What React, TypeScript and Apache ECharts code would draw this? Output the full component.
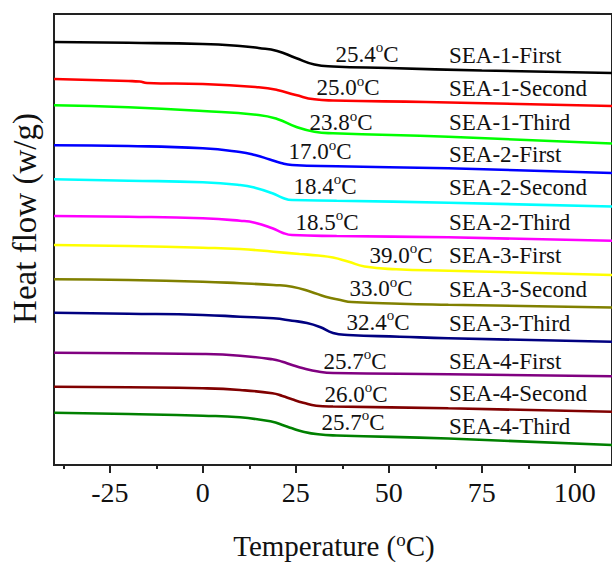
import React, { useEffect, useRef } from "react";
import * as echarts from "echarts";

// ---- axis ticks ----
const xMajorTicks = [-25, 0, 25, 50, 75, 100];
const xMinorTicks = [-37.5, -12.5, 12.5, 37.5, 62.5, 87.5];
const xMin = -40;
const xMax = 110;
const yMin = 0;
const yMax = 4.51;

// ---- series meta ----
const seriesNames = [
  "SEA-1-First", "SEA-1-Second", "SEA-1-Third",
  "SEA-2-First", "SEA-2-Second", "SEA-2-Third",
  "SEA-3-First", "SEA-3-Second", "SEA-3-Third",
  "SEA-4-First", "SEA-4-Second", "SEA-4-Third",
];
const tgValues = ["25.4", "25.0", "23.8", "17.0", "18.4", "18.5", "39.0", "33.0", "32.4", "25.7", "26.0", "25.7"];
const seriesColors = [
  "#000000", "#ff0000", "#00ff00",
  "#0000ff", "#00ffff", "#ff00ff",
  "#ffff00", "#808000", "#000080",
  "#800080", "#800000", "#008000",
];

// ---- curve data: [temperature (°C), heat flow (offset, w/g)] ----
const sea1First = [[-40, 4.23], [-20, 4.222], [0, 4.21], [10, 4.19], [15, 4.17], [20, 4.14], [25, 4.07], [30, 4.005], [35, 3.985], [50, 3.97], [75, 3.945], [110, 3.92]];
const sea1Second = [[-40, 3.86], [-20, 3.84], [-17, 3.835], [-15, 3.82], [0, 3.81], [15, 3.777], [20, 3.75], [25, 3.70], [30, 3.657], [35, 3.645], [60, 3.63], [85, 3.61], [110, 3.59]];
const sea1Third = [[-40, 3.597], [-20, 3.577], [0, 3.54], [15, 3.50], [20, 3.46], [25, 3.383], [30, 3.333], [35, 3.317], [66, 3.283], [110, 3.215]];
const sea2First = [[-40, 3.197], [-20, 3.19], [0, 3.167], [10, 3.13], [14, 3.10], [18, 3.055], [21, 3.02], [24, 3.00], [36, 2.987], [66, 2.967], [110, 2.92]];
const sea2Second = [[-40, 2.857], [-20, 2.843], [0, 2.827], [10, 2.80], [14, 2.773], [18.7, 2.717], [21.4, 2.673], [24, 2.65], [36, 2.643], [66, 2.623], [110, 2.585]];
const sea2Third = [[-40, 2.49], [-20, 2.483], [0, 2.467], [10, 2.443], [14, 2.423], [18.7, 2.367], [21.4, 2.323], [24, 2.30], [36, 2.29], [66, 2.277], [110, 2.243]];
const sea3First = [[-40, 2.20], [-20, 2.19], [0, 2.173], [10, 2.16], [19, 2.133], [26, 2.11], [31, 2.095], [35, 2.075], [39, 2.035], [43.5, 1.985], [52, 1.957], [66, 1.943], [110, 1.90]];
const sea3Second = [[-40, 1.857], [-20, 1.85], [0, 1.833], [10, 1.817], [19, 1.80], [24, 1.783], [29, 1.733], [33, 1.683], [37, 1.65], [40, 1.63], [53, 1.613], [66, 1.603], [110, 1.575]];
const sea3Third = [[-40, 1.523], [-20, 1.513], [0, 1.50], [10, 1.483], [19, 1.467], [24, 1.443], [28, 1.42], [31.5, 1.38], [35, 1.32], [39, 1.30], [53, 1.283], [66, 1.267], [110, 1.233]];
const sea4First = [[-40, 1.123], [-20, 1.117], [0, 1.11], [10, 1.093], [18.7, 1.057], [21.4, 1.033], [24, 1.00], [27, 0.967], [31, 0.935], [35, 0.92], [66, 0.908], [110, 0.887]];
const sea4Second = [[-40, 0.783], [-20, 0.777], [0, 0.767], [10, 0.75], [18.7, 0.717], [21.4, 0.69], [24, 0.657], [27, 0.623], [30.5, 0.593], [35, 0.585], [66, 0.567], [110, 0.533]];
const sea4Third = [[-40, 0.523], [-20, 0.51], [0, 0.493], [10, 0.477], [18.7, 0.433], [21.4, 0.40], [24, 0.367], [27, 0.333], [31, 0.307], [36, 0.295], [66, 0.265], [110, 0.20]];

const seriesData = [
  sea1First, sea1Second, sea1Third,
  sea2First, sea2Second, sea2Third,
  sea3First, sea3Second, sea3Third,
  sea4First, sea4Second, sea4Third,
];

// ---- label layout (pixels) ----
const nameLabelX = 449;
const nameLabelY = [55, 88, 122.5, 154, 187, 222.5, 255.6, 289.5, 323.5, 361, 393.5, 426];
const tgLabelXY = [
  [367, 52.5], [348, 86], [341, 121], [320, 150], [325, 184.5], [327, 220.5],
  [401, 253.5], [381, 287], [378, 320.5], [355, 359.5], [356, 392.5], [353, 420.5],
];

const FONT = "'Liberation Serif', 'Times New Roman', serif";
const AXIS_COLOR = "#222";

export default function App() {
  const ref = useRef<HTMLDivElement>(null);

  useEffect(() => {
    if (!ref.current) return;
    const chart = echarts.init(ref.current, null, { renderer: "svg" });

    const series = seriesData.map((d, i) => ({
      name: seriesNames[i],
      type: "line",
      data: d,
      showSymbol: false,
      symbol: "none",
      smooth: 0.5,
      lineStyle: { color: seriesColors[i], width: 2.6 },
      itemStyle: { color: seriesColors[i] },
      z: 3,
    }));

    const graphics: any[] = [];
    seriesNames.forEach((n, i) => {
      graphics.push({
        type: "text",
        x: nameLabelX,
        y: nameLabelY[i],
        z: 10,
        style: {
          text: n,
          fill: "#111",
          font: `23px ${FONT}`,
          align: "left",
          verticalAlign: "middle",
        },
      });
      graphics.push({
        type: "text",
        x: tgLabelXY[i][0],
        y: tgLabelXY[i][1],
        z: 10,
        style: {
          text: `{n|${tgValues[i]}}{s|o}{n|C}`,
          align: "center",
          verticalAlign: "middle",
          rich: {
            n: { fontSize: 23, fontFamily: FONT, fill: "#111", lineHeight: 26, verticalAlign: "bottom" },
            s: { fontSize: 15, fontFamily: FONT, fill: "#111", lineHeight: 11, verticalAlign: "top" },
          },
        },
      });
    });
    // y axis title
    graphics.push({
      type: "text",
      x: 24.5,
      y: 218.5,
      rotation: Math.PI / 2,
      z: 10,
      style: {
        text: "Heat flow (w/g)",
        fill: "#111",
        font: `33px ${FONT}`,
        align: "center",
        verticalAlign: "middle",
      },
    });
    // x axis title
    graphics.push({
      type: "text",
      x: 334,
      y: 545,
      z: 10,
      style: {
        text: "{n|Temperature (}{s|o}{n|C)}",
        align: "center",
        verticalAlign: "middle",
        rich: {
          n: { fontSize: 29, fontFamily: FONT, fill: "#111", lineHeight: 30, verticalAlign: "bottom" },
          s: { fontSize: 19, fontFamily: FONT, fill: "#111", lineHeight: 16, verticalAlign: "top" },
        },
      },
    });

    chart.setOption({
      animation: false,
      backgroundColor: "#ffffff",
      grid: {
        left: 54,
        top: 14,
        width: 561,
        height: 451,
        show: true,
        borderColor: AXIS_COLOR,
        borderWidth: 2,
        backgroundColor: "transparent",
      },
      xAxis: [
        {
          type: "value",
          min: xMin,
          max: xMax,
          position: "bottom",
          axisLine: { show: true, onZero: false, lineStyle: { color: AXIS_COLOR, width: 2 } },
          axisTick: {
            show: true,
            inside: false,
            length: 8,
            customValues: xMajorTicks,
            lineStyle: { color: AXIS_COLOR, width: 2 },
          },
          axisLabel: {
            show: true,
            customValues: xMajorTicks,
            fontSize: 28,
            fontFamily: FONT,
            color: "#111",
            margin: 13,
          },
          splitLine: { show: false },
        },
        {
          type: "value",
          min: xMin,
          max: xMax,
          position: "bottom",
          axisLine: { show: false, onZero: false },
          axisTick: {
            show: true,
            inside: false,
            length: 4,
            customValues: xMinorTicks,
            lineStyle: { color: AXIS_COLOR, width: 2 },
          },
          axisLabel: { show: false },
          splitLine: { show: false },
        },
      ],
      yAxis: {
        type: "value",
        min: yMin,
        max: yMax,
        axisLine: { show: true, onZero: false, lineStyle: { color: AXIS_COLOR, width: 2 } },
        axisTick: { show: false },
        axisLabel: { show: false },
        splitLine: { show: false },
      },
      series,
      graphic: graphics,
    });

    return () => chart.dispose();
  }, []);

  return (
    <div
      ref={ref}
      style={{ position: "absolute", left: 0, top: 0, width: 612, height: 562, background: "#fff" }}
    />
  );
}
